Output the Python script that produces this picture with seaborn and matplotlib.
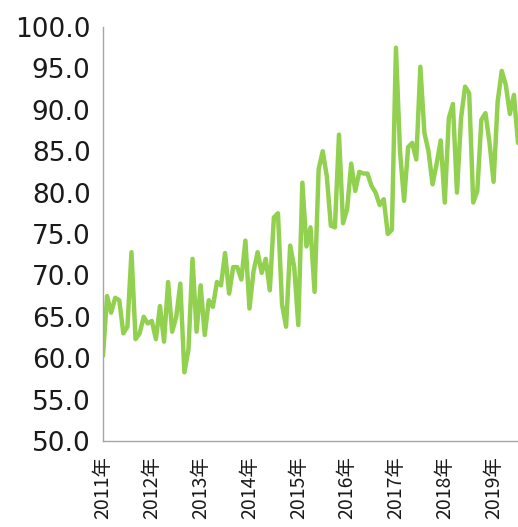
import numpy as np
import pandas as pd
import seaborn as sns
import matplotlib.pyplot as plt

years = ['2011年', '2012年', '2013年', '2014年', '2015年', '2016年', '2017年', '2018年', '2019年']

v2011 = [60.3, 67.5, 65.5, 67.3, 67.0, 63.0, 63.8, 72.8, 62.3, 63.0, 65.0, 64.2]
v2012 = [64.5, 62.3, 66.3, 62.0, 69.2, 63.2, 65.0, 69.0, 58.3, 61.0, 72.0, 63.2]
v2013 = [68.8, 62.8, 67.0, 66.2, 69.2, 68.8, 72.7, 67.8, 71.0, 71.0, 69.5, 74.2]
v2014 = [66.0, 70.5, 72.8, 70.3, 72.0, 68.2, 77.0, 77.5, 66.5, 63.8, 73.6, 71.0]
v2015 = [64.0, 81.2, 73.5, 75.8, 68.0, 82.8, 85.0, 82.0, 76.0, 75.8, 87.0, 76.3]
v2016 = [78.0, 83.5, 80.2, 82.5, 82.3, 82.3, 80.8, 80.0, 78.5, 79.2, 75.0, 75.5]
v2017 = [97.5, 85.0, 79.0, 85.5, 86.0, 84.0, 95.2, 87.2, 85.0, 81.0, 83.5, 86.3]
v2018 = [78.8, 89.0, 90.7, 80.0, 89.0, 92.8, 92.0, 78.8, 80.2, 88.8, 89.6, 86.0]
v2019 = [81.3, 91.0, 94.7, 93.0, 89.5, 91.8, 86.0]

values = v2011 + v2012 + v2013 + v2014 + v2015 + v2016 + v2017 + v2018 + v2019
df = pd.DataFrame({'month': np.arange(len(values)), 'value': values})

sns.set_style('white')
plt.rcParams['font.family'] = ['Noto Sans CJK SC', 'DejaVu Sans']

fig = plt.figure(figsize=(5.18, 5.27), dpi=100)
ax = fig.add_axes([103 / 518, 86 / 527, 1 - 103 / 518, 414 / 527])

sns.lineplot(data=df, x='month', y='value', color='#92D050', linewidth=3.2, ax=ax)

ax.set_xlim(0, 102)
ax.set_ylim(50, 100)
ax.set_yticks(np.arange(50, 100.1, 5))
ax.set_yticklabels([f'{v:.1f}' for v in np.arange(50, 100.1, 5)], fontsize=19,
                   family=['DejaVu Sans'], color='#1a1a1a')
ax.set_xticks(np.arange(0, 12 * len(years), 12))
ax.set_xticklabels(years, rotation=90, fontsize=14, color='#1a1a1a')
ax.set_xticks(np.arange(0, 103), minor=True)
ax.set_xlabel('')
ax.set_ylabel('')

for s in ['top', 'right']:
    ax.spines[s].set_visible(False)
for s in ['left', 'bottom']:
    ax.spines[s].set_color('#A6A6A6')
    ax.spines[s].set_linewidth(1)

ax.tick_params(axis='y', which='major', direction='out', length=5, color='#A6A6A6', pad=4)
ax.tick_params(axis='x', which='both', direction='out', length=5, color='#A6A6A6', pad=6)
ax.tick_params(axis='x', which='minor', width=0.8)
ax.grid(False)

fig.savefig('out.png', dpi=100)
